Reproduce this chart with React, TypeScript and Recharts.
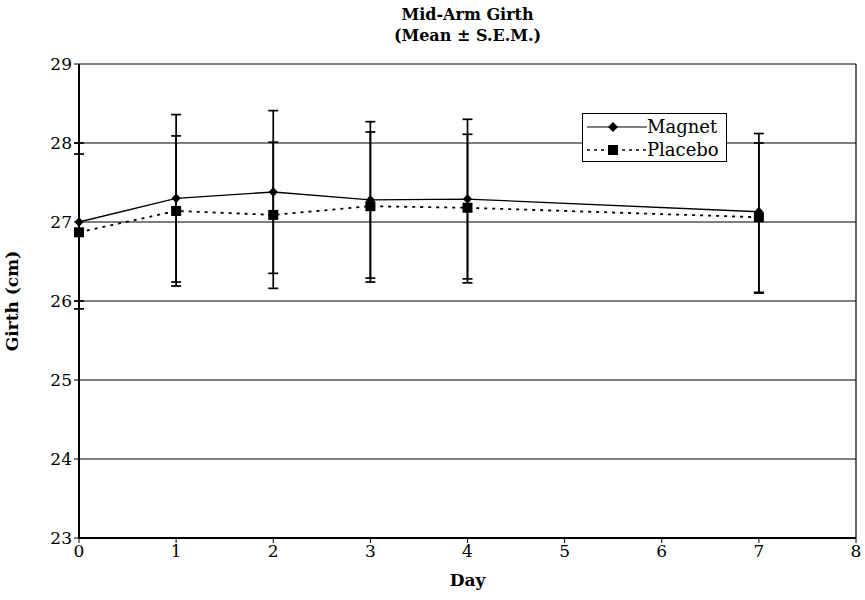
import React from 'react';
import {
  LineChart, Line, XAxis, YAxis, CartesianGrid, ErrorBar, ReferenceLine, Label,
} from 'recharts';

const days = [0, 1, 2, 3, 4, 7];
const magnet = [27.0, 27.3, 27.38, 27.28, 27.29, 27.13];
const placebo = [26.87, 27.14, 27.09, 27.2, 27.18, 27.06];
// S.E.M. as [below, above]
const magnetSem = [[1.0, 1.0], [1.06, 1.06], [1.03, 1.03], [0.99, 0.99], [1.01, 1.01], [1.02, 0.99]];
const placeboSem = [[0.97, 0.99], [0.95, 0.95], [0.93, 0.92], [0.96, 0.94], [0.95, 0.93], [0.96, 0.94]];
const xTicks = [0, 1, 2, 3, 4, 5, 6, 7, 8];
const yTicks = [23, 24, 25, 26, 27, 28, 29];

const chartData = days.map((d, i) => ({
  day: d,
  magnet: magnet[i],
  placebo: placebo[i],
  magnetErr: magnetSem[i],
  placeboErr: placeboSem[i],
}));

const FONT = '"DejaVu Serif", serif';

const Diamond = (props: any) => {
  const { cx, cy, index } = props;
  if (cx == null || cy == null) return <g key={`d${index}`} />;
  return <path key={`d${index}`} d={`M${cx},${cy - 5}L${cx + 4.5},${cy}L${cx},${cy + 5}L${cx - 4.5},${cy}Z`} fill="#000" />;
};

const Square = (props: any) => {
  const { cx, cy, index } = props;
  if (cx == null || cy == null) return <g key={`s${index}`} />;
  return <rect key={`s${index}`} x={cx - 5} y={cy - 5} width={10} height={10} fill="#000" />;
};

const LegendBox = () => (
  <div style={{ position: 'absolute', left: 582, top: 113, zIndex: 3, border: '1px solid #000', background: '#fff', width: 145, height: 49, fontFamily: FONT, fontSize: 18, lineHeight: '23px', boxSizing: 'border-box', padding: '1px 0 0 4px' }}>
    <div style={{ display: 'flex', alignItems: 'center' }}>
      <svg width={60} height={12}>
        <line x1={0} y1={6} x2={60} y2={6} stroke="#000" strokeWidth={1.2} />
        <path d="M26,1L31,6L26,11L21,6Z" fill="#000" />
      </svg>
      <span>Magnet</span>
    </div>
    <div style={{ display: 'flex', alignItems: 'center' }}>
      <svg width={60} height={12}>
        <line x1={0} y1={6} x2={60} y2={6} stroke="#000" strokeWidth={1.6} strokeDasharray="3 4" />
        <rect x={21} y={1} width={10} height={10} fill="#000" />
      </svg>
      <span>Placebo</span>
    </div>
  </div>
);

export default function App() {
  return (
    <div style={{ position: 'absolute', left: 0, top: 0, width: 865, height: 600, background: '#fff' }}>
      <div style={{ position: 'absolute', left: 0, top: 4, width: 935, textAlign: 'center', fontFamily: FONT, fontWeight: 'bold', fontSize: 16, lineHeight: '21px', zIndex: 2 }}>
        Mid-Arm Girth<br />(Mean ± S.E.M.)
      </div>
      <LegendBox />
      <LineChart width={865} height={600} data={chartData} margin={{ top: 64, right: 9, bottom: 0, left: 0 }}>
        <CartesianGrid vertical={false} stroke="#000" strokeWidth={1.2} strokeOpacity={1} />
        <ReferenceLine x={8} stroke="#000" strokeWidth={1.2} />
        <XAxis
          dataKey="day"
          type="number"
          domain={[0, 8]}
          ticks={xTicks}
          interval={0}
          height={62}
          axisLine={{ stroke: '#000', strokeWidth: 2 }}
          tickLine={{ stroke: '#000' }}
          tickSize={5}
          tick={{ fill: '#000', fontFamily: FONT, fontSize: 17 }}
        >
          <Label value="Day" position="insideBottom" offset={14} style={{ fill: '#000', fontFamily: FONT, fontSize: 17, fontWeight: 'bold' }} />
        </XAxis>
        <YAxis
          type="number"
          domain={[23, 29]}
          ticks={yTicks}
          interval={0}
          width={79}
          axisLine={{ stroke: '#000', strokeWidth: 2 }}
          tickLine={{ stroke: '#000' }}
          tickSize={5}
          tick={{ fill: '#000', fontFamily: FONT, fontSize: 17 }}
        >
          <Label value="Girth (cm)" angle={-90} position="insideLeft" offset={12} style={{ fill: '#000', fontFamily: FONT, fontSize: 17, fontWeight: 'bold', textAnchor: 'middle' }} />
        </YAxis>
        <Line
          dataKey="magnet"
          name="Magnet"
          stroke="#000"
          strokeWidth={1.3}
          dot={Diamond}
          activeDot={false}
          isAnimationActive={false}
        >
          <ErrorBar dataKey="magnetErr" direction="y" width={5} stroke="#000" strokeWidth={1.7} isAnimationActive={false} />
        </Line>
        <Line
          dataKey="placebo"
          name="Placebo"
          stroke="#000"
          strokeWidth={1.8}
          strokeDasharray="3 5"
          dot={Square}
          activeDot={false}
          isAnimationActive={false}
        >
          <ErrorBar dataKey="placeboErr" direction="y" width={5} stroke="#000" strokeWidth={1.7} isAnimationActive={false} />
        </Line>
      </LineChart>
    </div>
  );
}
